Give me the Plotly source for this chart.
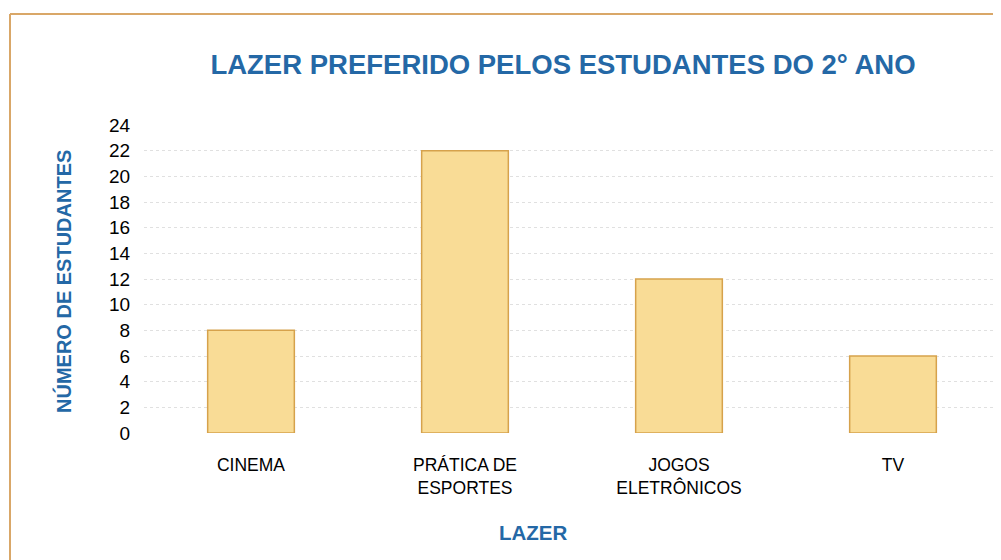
import plotly.graph_objects as go

categories = ["CINEMA", "PRÁTICA DE<br>ESPORTES", "JOGOS<br>ELETRÔNICOS", "TV"]
values = [8, 22, 12, 6]
y_ticks = list(range(0, 25, 2))

# the page places the figure 8px from the top-left of the window
OFF = 8
W, H = 993, 552
L, R, T, B = 136, 1, 117, 127
pw = W - L - R
ph = H - T - B

def px_x(x):
    return (x - OFF - L) / pw

def px_y(y):
    return (H - B - (y - OFF)) / ph

BLUE = "#2468a6"
FONT = "Liberation Sans, Arial, sans-serif"

fig = go.Figure(go.Bar(
    x=categories, y=values,
    marker=dict(color="#f9dc96", line=dict(color="#d6a24c", width=1.5)),
    width=0.405,
))

fig.update_layout(
    width=W, height=H,
    margin=dict(l=L, r=R, t=T, b=B),
    paper_bgcolor="white", plot_bgcolor="white",
    showlegend=False,
    font=dict(family=FONT, color="black"),
    title=dict(text="<b>LAZER PREFERIDO PELOS ESTUDANTES DO 2° ANO</b>",
               xref="container", yref="container",
               x=(563 - OFF) / W, y=1 - (64 - OFF) / H,
               xanchor="center", yanchor="middle",
               font=dict(family=FONT, size=27.5, color=BLUE)),
    xaxis=dict(showgrid=False, showline=False, zeroline=False,
               ticks="outside", ticklen=16, tickcolor="rgba(0,0,0,0)",
               tickfont=dict(size=17.5, color="black")),
    yaxis=dict(range=[0, 24], tickvals=y_ticks, showline=False, zeroline=False,
               showgrid=True, gridcolor="#e0e0e0", griddash="dot", gridwidth=1,
               ticks="outside", ticklen=9, tickcolor="rgba(0,0,0,0)",
               tickfont=dict(size=19, color="black")),
    annotations=[
        dict(text="<b>NÚMERO DE ESTUDANTES</b>", xref="paper", yref="paper",
             x=px_x(63), y=px_y(282), textangle=-90, showarrow=False,
             xanchor="center", yanchor="middle",
             font=dict(family=FONT, size=20, color=BLUE)),
        dict(text="<b>LAZER</b>", xref="paper", yref="paper",
             x=px_x(533), y=px_y(532), showarrow=False,
             xanchor="center", yanchor="middle",
             font=dict(family=FONT, size=20.5, color=BLUE)),
    ],
    shapes=[
        dict(type="line", xref="paper", yref="paper",
             x0=px_x(10), x1=px_x(10), y0=px_y(14), y1=px_y(H + 20),
             line=dict(color="#d9a768", width=2)),
        dict(type="line", xref="paper", yref="paper",
             x0=px_x(10), x1=px_x(W + 20), y0=px_y(14), y1=px_y(14),
             line=dict(color="#d9a768", width=2)),
    ],
)

fig.write_html("out.html")
